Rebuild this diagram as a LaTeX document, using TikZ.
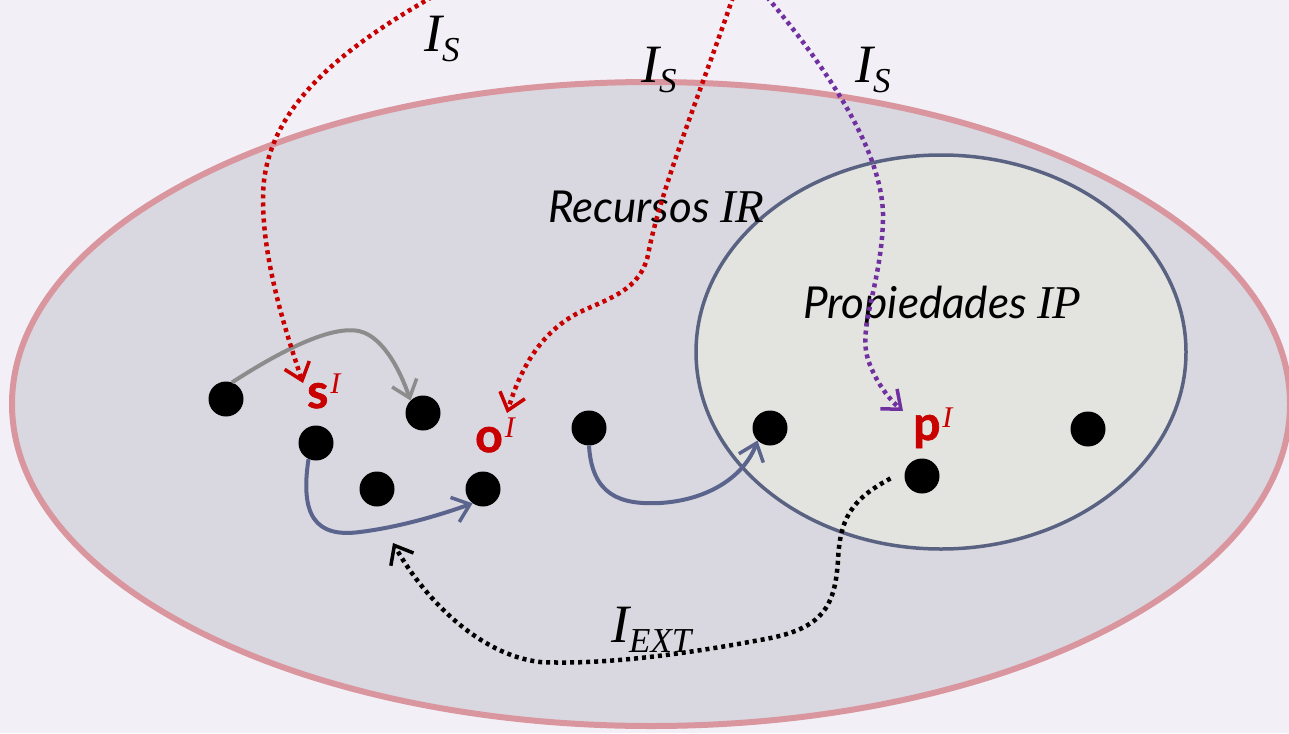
\documentclass[tikz,border=0pt]{standalone}
\usepackage{fontspec}
\setmainfont{Liberation Serif}
\newfontfamily\lato{Lato}
\newfontfamily\heavy{Lato}[BoldFeatures={FakeBold=1.5}]
\usetikzlibrary{arrows.meta}
\definecolor{bgc}{RGB}{242,240,246}
\definecolor{bigfill}{RGB}{217,216,224}
\definecolor{bigline}{RGB}{218,150,158}
\definecolor{smallfill}{RGB}{227,227,224}
\definecolor{smallline}{RGB}{90,98,130}
\definecolor{bluearr}{RGB}{90,100,140}
\definecolor{grayarr}{RGB}{140,140,140}
\definecolor{redc}{RGB}{200,0,0}
\definecolor{purp}{RGB}{112,48,160}
\newcommand\redlab[2]{{\heavy\bfseries\fontsize{48}{48}\selectfont #1}\kern2pt\raisebox{#2}{\fontsize{30}{30}\selectfont\itshape I}}
\newcommand\ilab[1]{{\fontsize{54}{54}\selectfont\itshape I}\raisebox{-10pt}{\fontsize{35}{35}\selectfont\itshape #1}}
\begin{document}
\begin{tikzpicture}[x=1pt,y=-1pt,
  dot/.style={circle,fill=black,inner sep=0pt,minimum size=35pt},
  barb/.style={-{Straight Barb[length=16pt,width=26pt,line width=3.5pt]}},
  solidarr/.style={barb,line width=4pt},
  dotarr/.style={barb,line width=4.5pt,dash pattern=on 4pt off 4pt},
  txt/.style={inner sep=0pt,anchor=base west}]
\fill[bgc] (0,0) rectangle (1289,733);
\useasboundingbox (0,0) rectangle (1289,733);
% ellipses
\draw[line width=6pt,draw=bigline,fill=bigfill] (651,404) ellipse [x radius=639pt,y radius=322pt];
\draw[line width=3.5pt,draw=smallline,fill=smallfill] (941,352) ellipse [x radius=245pt,y radius=197pt];
% texts
\node[txt] (rec) at (548,222) {{\lato\itshape\fontsize{44}{44}\selectfont Recursos\ }{\fontsize{47}{47}\selectfont\itshape IR}};
\node[txt] (prop) at (803,318) {{\lato\itshape\fontsize{44}{44}\selectfont Propiedades\ }{\fontsize{47}{47}\selectfont\itshape IP}};
% dots
\node[dot] (d1) at (226,399) {};
\node[dot] (d2) at (423,413) {};
\node[dot] (d3) at (316,443) {};
\node[dot] (d4) at (377,489) {};
\node[dot] (d5) at (483,489) {};
\node[dot] (d6) at (589,428) {};
\node[dot] (d7) at (770,428) {};
\node[dot] (d8) at (922,476) {};
\node[dot] (d9) at (1088,429) {};
% red labels
\node[txt,text=redc] (sl) at (307,408) {\redlab{s}{15pt}};
\node[txt,text=redc] (ol) at (475,452) {\redlab{o}{15pt}};
\node[txt,text=redc] (pl) at (913,440) {\redlab{p}{13pt}};
% I labels
\node[txt] (is1) at (424,52) {\ilab{S}};
\node[txt] (is2) at (641,83) {\ilab{S}};
\node[txt] (is3) at (855,83) {\ilab{S}};
\node[txt] (iext) at (611,642) {\ilab{EXT}};
% free ends
\coordinate (sTop) at (432,-3);
\coordinate (oTop) at (733,-3);
\coordinate (pTop) at (767,-3);
\coordinate (sEnd) at (303,383);
\coordinate (oEnd) at (507,413);
\coordinate (pEnd) at (903,411);
\coordinate (extEnd) at (393,543);
% solid arrows
\draw[solidarr,grayarr] (d1.70) .. controls (290,345) and (340,322) .. (365,333) .. controls (385,342) and (400,370) .. (d2.135);
\draw[solidarr,bluearr] (d3.245) .. controls (300,515) and (315,538) .. (360,532) .. controls (400,527) and (440,515) .. (d5.234);
\draw[solidarr,bluearr] (d6.270) .. controls (592,495) and (620,505) .. (660,503) .. controls (710,500) and (745,475) .. (d7.225);
% dotted arrows
\draw[dotarr,redc] (sTop) .. controls (340,50) and (262,110) .. (263,200) .. controls (263,260) and (285,330) .. (sEnd);
\draw[dotarr,redc] (oTop) .. controls (705,80) and (660,190) .. (648,255) .. controls (640,290) and (610,298) .. (580,312) .. controls (540,332) and (520,370) .. (oEnd);
\draw[dotarr,purp] (pTop) .. controls (820,60) and (885,150) .. (883,220) .. controls (881,290) and (855,330) .. (870,365) .. controls (878,385) and (890,400) .. (pEnd);
\draw[dotarr,black] (d8.188) ++(-14pt,0) .. controls (850,500) and (840,520) .. (838,560) .. controls (835,610) and (820,630) .. (760,640) .. controls (680,655) and (600,665) .. (540,662) .. controls (480,655) and (425,600) .. (extEnd);
\end{tikzpicture}
\end{document}
